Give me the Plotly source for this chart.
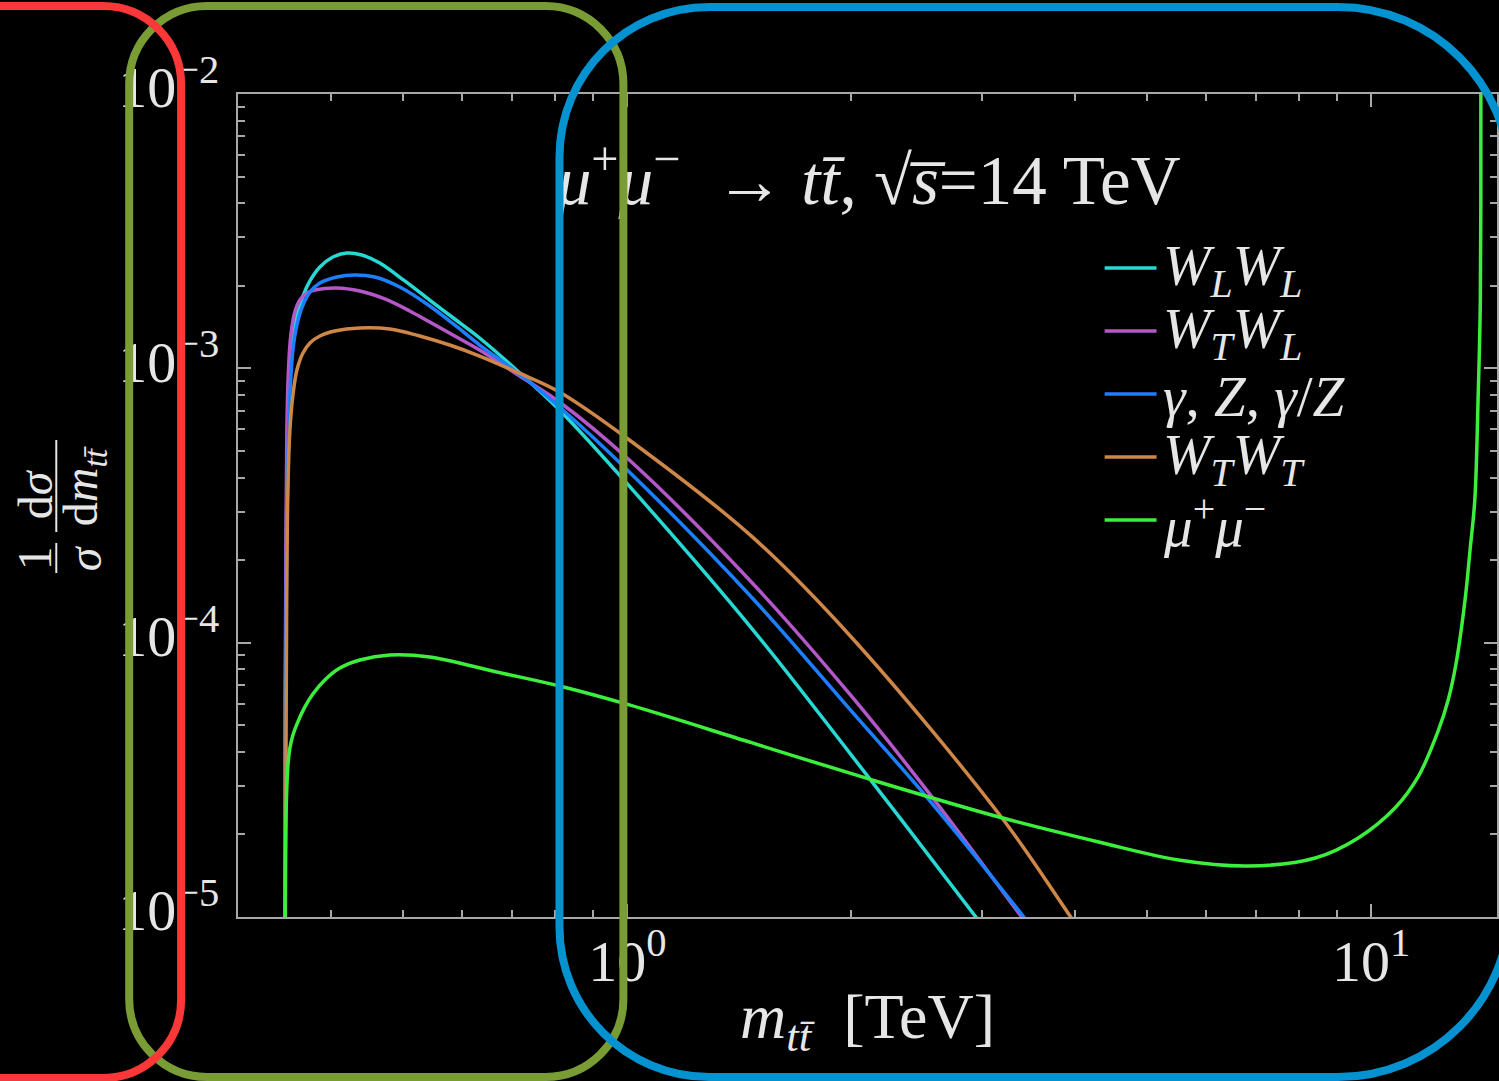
import plotly.graph_objects as go

# ---- normalized m_tt distributions, mu+ mu- -> t tbar at sqrt(s) = 14 TeV ----
m_wlwl = [0.3463, 0.3469, 0.3480, 0.3496, 0.3518, 0.3551, 0.3595, 0.3663, 0.3743, 0.3860,
          0.4018, 0.4196, 0.4395, 0.4646, 0.5020, 0.5423, 0.5859, 0.6329, 0.7096, 0.8103,
          1.006, 1.472, 2.005, 2.941, 3.158]
v_wlwl = [8e-6, 6.2e-5, 2.8e-4, 5.96e-4, 9.46e-4, 1.268e-3, 1.551e-3, 1.835e-3, 2.082e-3, 2.340e-3,
          2.545e-3, 2.633e-3, 2.588e-3, 2.42e-3, 2.082e-3, 1.774e-3, 1.513e-3, 1.290e-3, 9.86e-4, 7.05e-4,
          3.72e-4, 1.121e-4, 3.86e-5, 1.0e-5, 7.7e-6]

m_wtwl = [0.3463, 0.3467, 0.3475, 0.3485, 0.3501, 0.3528, 0.3572, 0.3628, 0.3707, 0.3801,
          0.4068, 0.4368, 0.4719, 0.5098, 0.5423, 0.5859, 0.6329, 0.7096, 0.8103, 1.006,
          1.472, 2.005, 2.567, 3.390, 3.663]
v_wtwl = [8e-6, 6.18e-5, 2.37e-4, 5.96e-4, 9.70e-4, 1.322e-3, 1.604e-3, 1.774e-3, 1.882e-3, 1.930e-3,
          1.963e-3, 1.913e-3, 1.790e-3, 1.618e-3, 1.475e-3, 1.312e-3, 1.166e-3, 9.54e-4, 7.54e-4, 4.63e-4,
          1.650e-4, 6.34e-5, 2.74e-5, 1.0e-5, 7.6e-6]

m_gz = [0.3463, 0.3470, 0.3483, 0.3501, 0.3523, 0.3551, 0.3595, 0.3663, 0.3743, 0.3860,
        0.4068, 0.4300, 0.4575, 0.4943, 0.5423, 0.5859, 0.6329, 0.7096, 0.8103, 1.006,
        1.472, 2.005, 2.519, 3.411, 3.685]
v_gz = [8e-6, 5.22e-5, 2.37e-4, 5.48e-4, 8.69e-4, 1.166e-3, 1.439e-3, 1.701e-3, 1.897e-3, 2.046e-3,
        2.152e-3, 2.189e-3, 2.152e-3, 1.979e-3, 1.688e-3, 1.439e-3, 1.216e-3, 9.70e-4, 7.23e-4, 4.19e-4,
        1.455e-4, 5.59e-5, 2.76e-5, 1.0e-5, 7.6e-6]

m_wtwt = [0.3468, 0.3475, 0.3483, 0.3496, 0.3518, 0.3551, 0.3595, 0.3663, 0.3743, 0.3860,
          0.4043, 0.4368, 0.4793, 0.5257, 0.5769, 0.6329, 0.7096, 0.8103, 1.006, 1.472,
          2.005, 3.187, 3.945, 4.236]
v_wtwt = [8e-6, 3.73e-5, 1.43e-4, 3.60e-4, 5.96e-4, 7.99e-4, 9.86e-4, 1.137e-3, 1.237e-3, 1.312e-3,
          1.368e-3, 1.403e-3, 1.391e-3, 1.312e-3, 1.216e-3, 1.109e-3, 9.70e-4, 8.20e-4, 5.48e-4, 2.43e-4,
          1.040e-4, 2.30e-5, 1.0e-5, 7.6e-6]

m_mumu = [0.3463, 0.3469, 0.3480, 0.3496, 0.3518, 0.3551, 0.3595, 0.3685, 0.3777, 0.3919,
          0.4106, 0.4368, 0.4793, 0.5423, 0.6671, 0.8103, 1.006, 1.472, 2.132, 3.187,
          4.301, 5.507, 6.838, 8.411, 9.607, 10.77, 11.56, 12.30, 12.69, 13.00,
          13.37, 13.58, 13.78, 13.92, 14.019, 14.041, 14.045]
v_mumu = [8e-6, 1.61e-5, 2.67e-5, 3.55e-5, 4.13e-5, 4.61e-5, 5.05e-5, 5.83e-5, 6.50e-5, 7.31e-5,
          8.08e-5, 8.65e-5, 9.02e-5, 8.87e-5, 7.82e-5, 6.95e-5, 5.93e-5, 4.31e-5, 3.16e-5, 2.30e-5,
          1.877e-5, 1.613e-5, 1.534e-5, 1.641e-5, 1.941e-5, 2.50e-5, 3.24e-5, 4.76e-5, 6.18e-5, 8.36e-5,
          1.43e-4, 2.18e-4, 3.31e-4, 7.66e-4, 1.774e-3, 1.0e-2, 1.33e-2]

series_names = [
    "<i>W</i><sub><i>L</i></sub><i>W</i><sub><i>L</i></sub>",
    "<i>W</i><sub><i>T</i></sub><i>W</i><sub><i>L</i></sub>",
    "<i>γ</i>, <i>Z</i>, <i>γ</i>/<i>Z</i>",
    "<i>W</i><sub><i>T</i></sub><i>W</i><sub><i>T</i></sub>",
    "<i>μ</i><sup>+</sup><i>μ</i><sup>−</sup>",
]
series_colors = ["#27d8d4", "#b457c8", "#1c7fff", "#cf8747", "#3cef3c"]

x_tickvals = [1, 10]
x_ticktext = ["10<sup>0</sup>", "10<sup>1</sup>"]
y_tickvals = [1e-5, 1e-4, 1e-3, 1e-2]
y_ticktext = ["10<sup>−5</sup>", "10<sup>−4</sup>", "10<sup>−3</sup>", "10<sup>−2</sup>"]

title_text = ("<i>μ</i><sup>+</sup><i>μ</i><sup>−</sup>  → <i>t</i><i>t̄</i>, "
              "√<i>s̅</i>=14 TeV")
x_title = "<i>m</i><sub><i>t</i><i>t̄</i></sub>  [TeV]"

# ---- page geometry ----
W, H = 1499, 1081
ML, MR, MT, MB = 238, 0, 94, 164
PW, PH = W - ML - MR, H - MT - MB
FONT = "Liberation Serif"
TXT = "#e6e6e6"
AXC = "#a8a8a8"


def to_paper(px, py):
    return (px - ML) / PW, (H - MB - py) / PH


def rounded_box(x0, y0, x1, y1, rl, rr):
    """SVG path (paper units) of a rounded rectangle given in page pixels."""
    kl, kr = 0.5523 * rl, 0.5523 * rr
    pts = [
        ("M", [(x0 + rl, y0)]),
        ("L", [(x1 - rr, y0)]),
        ("C", [(x1 - rr + kr, y0), (x1, y0 + rr - kr), (x1, y0 + rr)]),
        ("L", [(x1, y1 - rr)]),
        ("C", [(x1, y1 - rr + kr), (x1 - rr + kr, y1), (x1 - rr, y1)]),
        ("L", [(x0 + rl, y1)]),
        ("C", [(x0 + rl - kl, y1), (x0, y1 - rl + kl), (x0, y1 - rl)]),
        ("L", [(x0, y0 + rl)]),
        ("C", [(x0, y0 + rl - kl), (x0 + rl - kl, y0), (x0 + rl, y0)]),
    ]
    parts = []
    for cmd, coords in pts:
        cs = " ".join("%.5f,%.5f" % to_paper(px, py) for px, py in coords)
        parts.append(cmd + " " + cs)
    return " ".join(parts) + " Z"


fig = go.Figure()

curves = [(m_wlwl, v_wlwl), (m_wtwl, v_wtwl), (m_gz, v_gz), (m_wtwt, v_wtwt), (m_mumu, v_mumu)]
for (mx, vy), name, col in zip(curves, series_names, series_colors):
    fig.add_trace(go.Scatter(
        x=mx, y=vy, mode="lines", name=name, showlegend=False,
        line=dict(color=col, width=3.5, shape="spline", smoothing=1.0),
    ))

# process label inside the frame
fig.add_trace(go.Scatter(
    x=[2.11], y=[4.6e-3], mode="text", text=[title_text], showlegend=False,
    textposition="middle center", textfont=dict(family=FONT, size=69, color=TXT),
    hoverinfo="skip",
))

minor_x = [k * 0.1 for k in range(4, 10)] + list(range(2, 10))
minor_y = [k * 10.0 ** e for e in range(-5, -2) for k in range(2, 10)]

axis_common = dict(
    type="log", showline=True, linecolor=AXC, linewidth=2, mirror="ticks",
    ticks="inside", ticklen=13, tickwidth=2, tickcolor=AXC,
    tickfont=dict(family=FONT, size=58, color=TXT),
    showgrid=False, zeroline=False, tickmode="array",
)

fig.update_xaxes(
    **axis_common, range=[-0.5235, 1.1691],
    tickvals=x_tickvals, ticktext=x_ticktext, ticklabelstandoff=-8,
    minor=dict(tickmode="array", tickvals=minor_x, ticks="inside", ticklen=7,
               tickwidth=1.5, tickcolor=AXC, showgrid=False),
)
fig.update_yaxes(
    **axis_common, range=[-5, -2],
    tickvals=y_tickvals, ticktext=y_ticktext, ticklabelstandoff=5, ticklabelshift=-7,
    minor=dict(tickmode="array", tickvals=minor_y, ticks="inside", ticklen=7,
               tickwidth=1.5, tickcolor=AXC, showgrid=False),
)

annotations = []
shapes = []

# x-axis title
ax_, ay_ = to_paper(868, 1021)
annotations.append(dict(x=ax_, y=ay_, xref="paper", yref="paper", text=x_title,
                        showarrow=False, xanchor="center", yanchor="middle",
                        font=dict(family=FONT, size=64, color=TXT)))

# y-axis title: (1/sigma) (d sigma / d m_tt), written as two rotated fractions
for px, py, txt in [(34, 558, "1"), (84, 558, "<i>σ</i>"),
                    (35, 494, "d<i>σ</i>"),
                    (84, 486, "d<i>m</i><sub><i>t</i><i>t̄</i></sub>")]:
    qx, qy = to_paper(px, py)
    annotations.append(dict(x=qx, y=qy, xref="paper", yref="paper", text=txt,
                            showarrow=False, textangle=-90, xanchor="center",
                            yanchor="middle", font=dict(family=FONT, size=48, color=TXT)))
for y0, y1 in [(543, 573), (440, 532)]:
    bx, by0 = to_paper(56, y0)
    _, by1 = to_paper(56, y1)
    shapes.append(dict(type="line", xref="paper", yref="paper", x0=bx, x1=bx,
                       y0=by0, y1=by1, line=dict(color=TXT, width=2)))

# legend: short line sample followed by the label, one row per series
LEG_X0, LEG_X1, LEG_TX, LEG_Y0, LEG_DY = 1106, 1158, 1162, 268, 63
for i, (name, col) in enumerate(zip(series_names, series_colors)):
    ry = LEG_Y0 + i * LEG_DY
    sx0, sy = to_paper(LEG_X0, ry)
    sx1, _ = to_paper(LEG_X1, ry)
    shapes.append(dict(type="line", xref="paper", yref="paper", x0=sx0, x1=sx1,
                       y0=sy, y1=sy, line=dict(color=col, width=3.5)))
    tx, ty = to_paper(LEG_TX, ry + 2)
    annotations.append(dict(x=tx, y=ty, xref="paper", yref="paper", text=name,
                            showarrow=False, xanchor="left", yanchor="middle",
                            font=dict(family=FONT, size=57, color=TXT)))

# highlight boxes over the figure
for (x0, y0, x1, y1, rl, rr), col in [((129, 6, 624, 1077, 78, 78), "#7a9c35"),
                                      ((-120, 6, 181, 1078, 78, 78), "#fb3838"),
                                      ((560, 7, 1512, 1077, 150, 172), "#0592d0")]:
    shapes.append(dict(type="path", xref="paper", yref="paper", layer="above",
                       path=rounded_box(x0, y0, x1, y1, rl, rr),
                       line=dict(color=col, width=8), fillcolor="rgba(0,0,0,0)"))

fig.update_layout(
    width=W, height=H, margin=dict(l=ML, r=MR, t=MT, b=MB, pad=0),
    paper_bgcolor="black", plot_bgcolor="black",
    font=dict(family=FONT, color=TXT),
    showlegend=False,
    annotations=annotations, shapes=shapes,
)

fig.write_html("out.html")
